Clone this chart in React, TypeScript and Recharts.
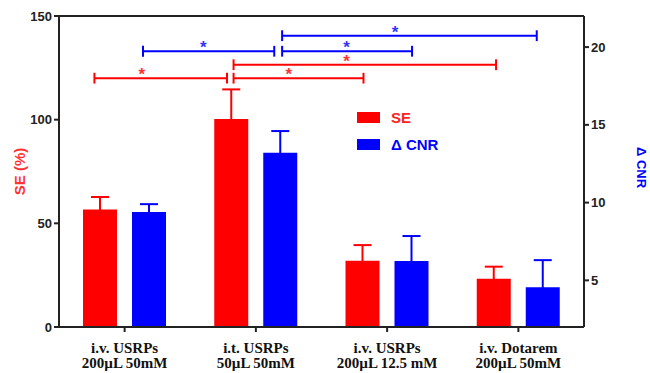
import { BarChart, Bar, XAxis, YAxis, ErrorBar, ReferenceLine, ReferenceDot, Legend } from 'recharts';

const RED = '#ff0000';
const BLUE = '#0000ff';
const AXIS = '#222';

const groupLine1 = ['i.v. USRPs', 'i.t. USRPs', 'i.v. USRPs', 'i.v. Dotarem'];
const groupLine2 = ['200µL 50mM', '50µL 50mM', '200µL 12.5 mM', '200µL 50mM'];

const seValues = [56.7, 100.3, 32.0, 23.3];
const seErrors = [6.0, 14.3, 7.5, 5.8];
const cnrValues = [9.4, 13.2, 6.25, 4.55];
const cnrErrors = [0.5, 1.4, 1.6, 1.75];

const seTicks = [0, 50, 100, 150];
const cnrTicks = [5, 10, 15, 20];

// significance brackets, x in group units (0..4 across the plot), y in SE units
const seBrackets = [
  { x1: 0.27, x2: 1.28, y: 120, star: 0.63 },
  { x1: 1.33, x2: 2.32, y: 120, star: 1.75 },
  { x1: 1.33, x2: 3.33, y: 126.5, star: 2.19 },
];
const cnrBrackets = [
  { x1: 0.64, x2: 1.64, y: 133, star: 1.1 },
  { x1: 1.7, x2: 2.69, y: 133, star: 2.19 },
  { x1: 1.7, x2: 3.64, y: 140.5, star: 2.56 },
];

const data = groupLine1.map((name, i) => ({
  name,
  se: seValues[i],
  seErr: seErrors[i],
  cnr: cnrValues[i],
  cnrErr: cnrErrors[i],
}));

const CAP = 2.6;

// the hidden numeric x axis spans the row indexes (0..n-1) over the full plot width,
// so convert group units (0..n) to that
const toAxis = (v: number) => (v * (data.length - 1)) / data.length;

function GroupTick({ x, y, payload }: any) {
  const i = payload.index;
  return (
    <text x={x} y={y} textAnchor="middle" fill="#111"
      style={{ fontFamily: '"Liberation Serif", "Times New Roman", serif', fontWeight: 'bold', fontSize: 15 }}>
      <tspan x={x} dy={19}>{groupLine1[i]}</tspan>
      <tspan x={x} dy={15}>{groupLine2[i]}</tspan>
    </text>
  );
}

function LegendBox() {
  const rows = [
    { label: 'SE', color: RED, text: '#f22' },
    { label: 'Δ CNR', color: BLUE, text: BLUE },
  ];
  return (
    <div style={{ fontFamily: 'Arial, "Liberation Sans", sans-serif', fontWeight: 'bold', fontSize: 15 }}>
      {rows.map((r) => (
        <div key={r.label} style={{ display: 'flex', alignItems: 'center', height: 27 }}>
          <span style={{ display: 'inline-block', width: 23, height: 11, background: r.color, marginRight: 11 }} />
          <span style={{ color: r.text }}>{r.label}</span>
        </div>
      ))}
    </div>
  );
}

function bracketLines(list: typeof seBrackets, color: string) {
  const out: any[] = [];
  list.forEach((b, k) => {
    const a = toAxis(b.x1);
    const c = toAxis(b.x2);
    const common = { xAxisId: 'num', yAxisId: 'left', stroke: color, strokeWidth: 2, ifOverflow: 'visible' as const };
    out.push(<ReferenceLine key={`h${color}${k}`} {...common} segment={[{ x: a, y: b.y }, { x: c, y: b.y }]} />);
    out.push(<ReferenceLine key={`a${color}${k}`} {...common} segment={[{ x: a, y: b.y - CAP }, { x: a, y: b.y + CAP }]} />);
    out.push(<ReferenceLine key={`b${color}${k}`} {...common} segment={[{ x: c, y: b.y - CAP }, { x: c, y: b.y + CAP }]} />);
    out.push(
      <ReferenceDot key={`s${color}${k}`} xAxisId="num" yAxisId="left" x={toAxis(b.star)} y={b.y} r={0} ifOverflow="visible"
        shape={(p: any) => (
          <text x={p.cx} y={p.cy + 2} textAnchor="middle" fill={color} opacity={0.8}
            style={{ fontFamily: 'Arial, sans-serif', fontSize: 17, fontWeight: 'bold' }}>*</text>
        )} />
    );
  });
  return out;
}

export default function App() {
  const tickStyle = { fill: AXIS, fontSize: 13, fontWeight: 'bold', fontFamily: 'Arial, "Liberation Sans", sans-serif' };
  return (
    <div style={{ position: 'absolute', left: 0, top: 0, background: '#fff' }}>
      <BarChart width={650} height={373} data={data} margin={{ top: 16, right: 0, left: 0, bottom: 0 }}
        barSize={34} barGap={15}>
        <XAxis dataKey="name" height={46} tick={<GroupTick />} tickSize={5} interval={0}
          axisLine={{ stroke: AXIS, strokeWidth: 2 }} tickLine={{ stroke: AXIS, strokeWidth: 2 }} />
        <XAxis xAxisId="num" type="number" domain={[0, data.length - 1]} allowDataOverflow hide />
        <YAxis yAxisId="left" domain={[0, 150]} ticks={seTicks} width={59} tickSize={5}
          tick={tickStyle} axisLine={{ stroke: AXIS, strokeWidth: 2 }} tickLine={{ stroke: AXIS, strokeWidth: 2 }}
          label={{
            content: ({ viewBox }: any) => {
              const cx = viewBox.x + 19;
              const cy = viewBox.y + viewBox.height / 2;
              return (
                <text x={cx} y={cy} transform={`rotate(-90, ${cx}, ${cy})`} textAnchor="middle" dominantBaseline="central"
                  fill="#ff3333" style={{ fontFamily: 'Arial, sans-serif', fontSize: 15, fontWeight: 600 }}>SE (%)</text>
              );
            },
          }} />
        <YAxis yAxisId="right" orientation="right" domain={[2, 22]} ticks={cnrTicks} width={66} tickSize={5}
          tick={tickStyle} axisLine={{ stroke: AXIS, strokeWidth: 2 }} tickLine={{ stroke: AXIS, strokeWidth: 2 }}
          label={{
            content: ({ viewBox }: any) => {
              const cx = viewBox.x + 57;
              const cy = viewBox.y + viewBox.height / 2 - 4;
              return (
                <text x={cx} y={cy} transform={`rotate(90, ${cx}, ${cy})`} textAnchor="middle" dominantBaseline="central"
                  fill={BLUE} style={{ fontFamily: 'Arial, sans-serif', fontSize: 13, fontWeight: 'bold' }}>Δ CNR</text>
              );
            },
          }} />
        <ReferenceLine yAxisId="left" y={150} stroke={AXIS} strokeWidth={2} />
        <Bar yAxisId="left" dataKey="se" fill={RED} isAnimationActive={false}>
          <ErrorBar dataKey="seErr" width={9} strokeWidth={2} stroke={RED} direction="y" />
        </Bar>
        <Bar yAxisId="right" dataKey="cnr" fill={BLUE} isAnimationActive={false}>
          <ErrorBar dataKey="cnrErr" width={9} strokeWidth={2} stroke={BLUE} direction="y" />
        </Bar>
        {bracketLines(seBrackets, RED)}
        {bracketLines(cnrBrackets, BLUE)}
        <Legend layout="horizontal" verticalAlign="middle" align="center" content={<LegendBox />}
          wrapperStyle={{ left: 357, top: 104, width: 'auto' }} />
      </BarChart>
    </div>
  );
}
